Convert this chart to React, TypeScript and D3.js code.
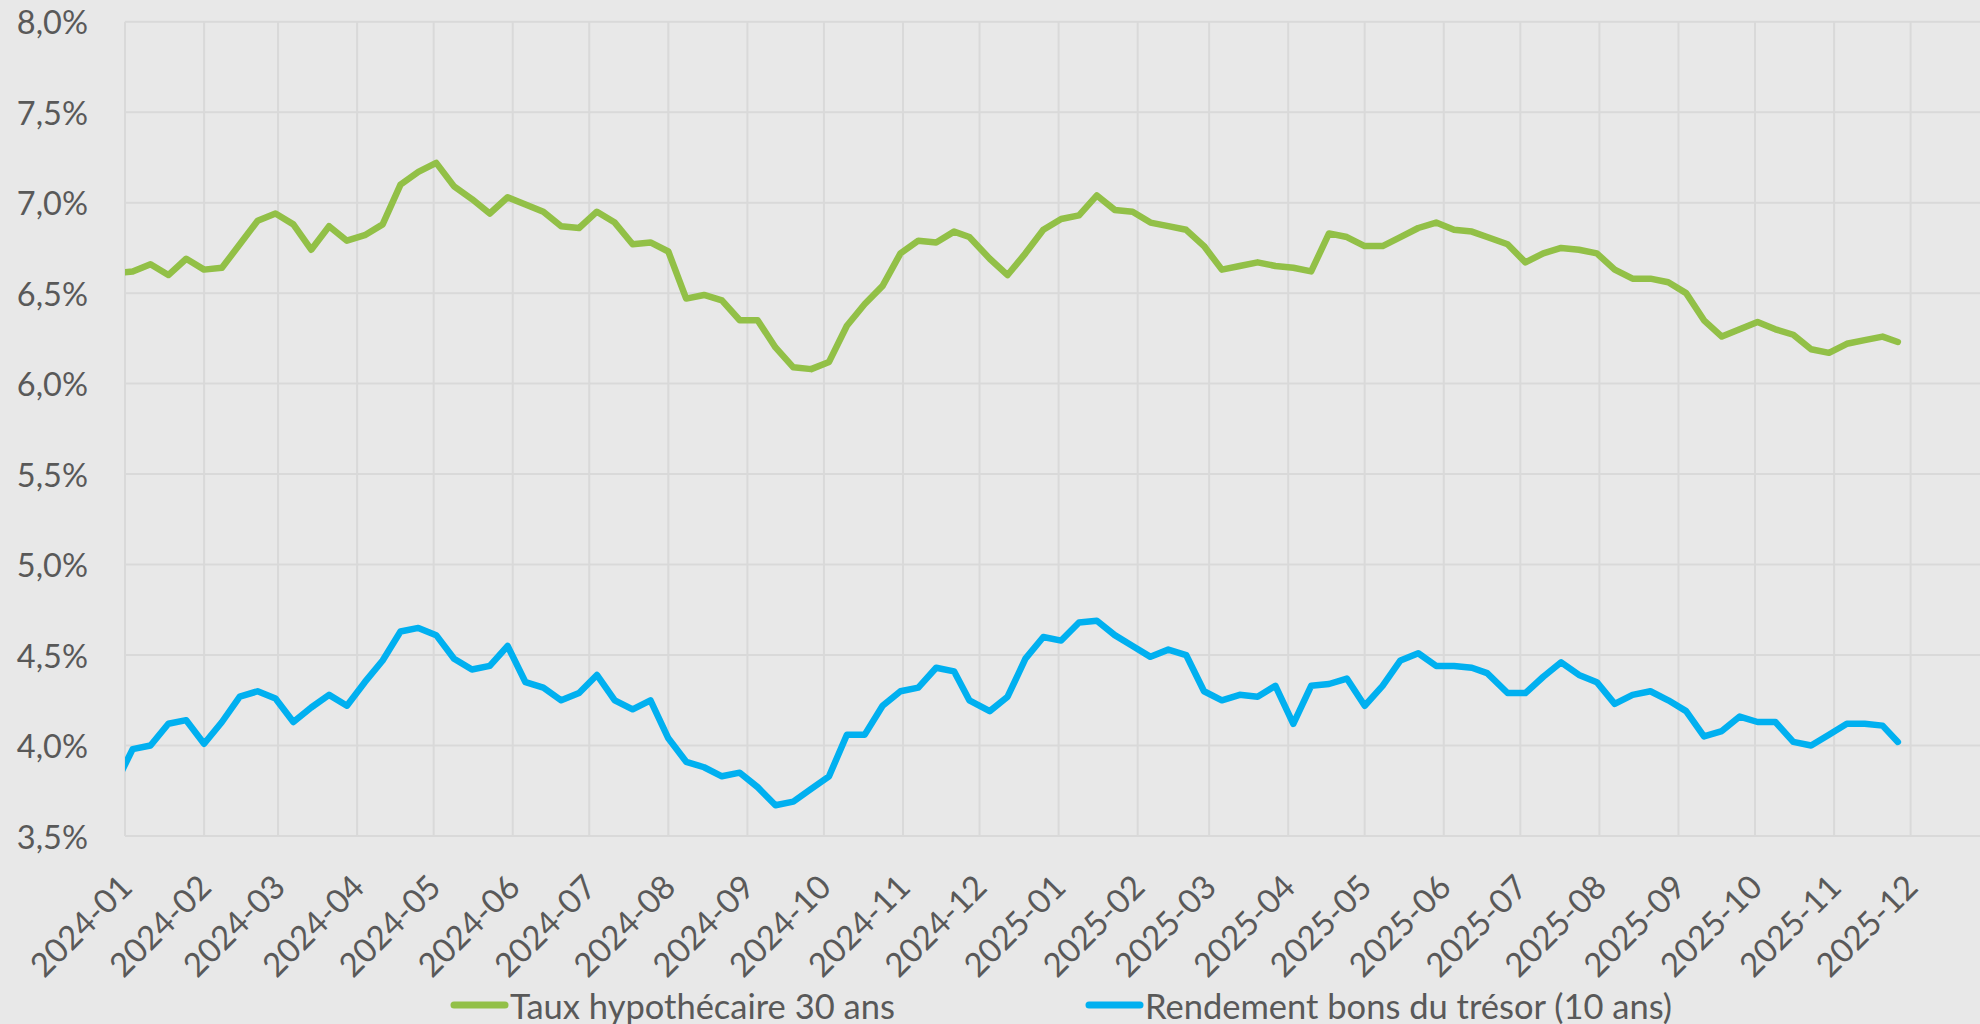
import React from 'react';
import * as d3 from 'd3';

// weekly observations (first point sits just before the axis start and gets clipped)
const weeks = [
  '2023-12-28',
  '2024-01-04', '2024-01-11', '2024-01-18', '2024-01-25', '2024-02-01', '2024-02-08', '2024-02-15', '2024-02-22', '2024-02-29',
  '2024-03-07', '2024-03-14', '2024-03-21', '2024-03-28', '2024-04-04', '2024-04-11', '2024-04-18', '2024-04-25', '2024-05-02',
  '2024-05-09', '2024-05-16', '2024-05-23', '2024-05-30', '2024-06-06', '2024-06-13', '2024-06-20', '2024-06-27', '2024-07-04',
  '2024-07-11', '2024-07-18', '2024-07-25', '2024-08-01', '2024-08-08', '2024-08-15', '2024-08-22', '2024-08-29', '2024-09-05',
  '2024-09-12', '2024-09-19', '2024-09-26', '2024-10-03', '2024-10-10', '2024-10-17', '2024-10-24', '2024-10-31', '2024-11-07',
  '2024-11-14', '2024-11-21', '2024-11-27', '2024-12-05', '2024-12-12', '2024-12-19', '2024-12-26',
  '2025-01-02', '2025-01-09', '2025-01-16', '2025-01-23', '2025-01-30', '2025-02-06', '2025-02-13', '2025-02-20', '2025-02-27',
  '2025-03-06', '2025-03-13', '2025-03-20', '2025-03-27', '2025-04-03', '2025-04-10', '2025-04-17', '2025-04-24', '2025-05-01',
  '2025-05-08', '2025-05-15', '2025-05-22', '2025-05-29', '2025-06-05', '2025-06-12', '2025-06-18', '2025-06-26', '2025-07-03',
  '2025-07-10', '2025-07-17', '2025-07-24', '2025-07-31', '2025-08-07', '2025-08-14', '2025-08-21', '2025-08-28', '2025-09-04',
  '2025-09-11', '2025-09-18', '2025-09-25', '2025-10-02', '2025-10-09', '2025-10-16', '2025-10-23', '2025-10-30', '2025-11-06',
  '2025-11-13', '2025-11-20', '2025-11-26'
];

const mortgage30 = [
  6.61,
  6.62, 6.66, 6.60, 6.69, 6.63, 6.64, 6.77, 6.90, 6.94, 6.88, 6.74, 6.87, 6.79, 6.82, 6.88, 7.10, 7.17, 7.22,
  7.09, 7.02, 6.94, 7.03, 6.99, 6.95, 6.87, 6.86, 6.95, 6.89, 6.77, 6.78, 6.73, 6.47, 6.49, 6.46, 6.35, 6.35,
  6.20, 6.09, 6.08, 6.12, 6.32, 6.44, 6.54, 6.72, 6.79, 6.78, 6.84, 6.81, 6.69, 6.60, 6.72, 6.85,
  6.91, 6.93, 7.04, 6.96, 6.95, 6.89, 6.87, 6.85, 6.76, 6.63, 6.65, 6.67, 6.65, 6.64, 6.62, 6.83, 6.81, 6.76,
  6.76, 6.81, 6.86, 6.89, 6.85, 6.84, 6.81, 6.77, 6.67, 6.72, 6.75, 6.74, 6.72, 6.63, 6.58, 6.58, 6.56, 6.50,
  6.35, 6.26, 6.30, 6.34, 6.30, 6.27, 6.19, 6.17, 6.22, 6.24, 6.26, 6.23
];

const treasury10 = [
  3.78,
  3.98, 4.00, 4.12, 4.14, 4.01, 4.13, 4.27, 4.30, 4.26, 4.13, 4.21, 4.28, 4.22, 4.35, 4.47, 4.63, 4.65, 4.61,
  4.48, 4.42, 4.44, 4.55, 4.35, 4.32, 4.25, 4.29, 4.39, 4.25, 4.20, 4.25, 4.04, 3.91, 3.88, 3.83, 3.85, 3.77,
  3.67, 3.69, 3.76, 3.83, 4.06, 4.06, 4.22, 4.30, 4.32, 4.43, 4.41, 4.25, 4.19, 4.27, 4.48, 4.60,
  4.58, 4.68, 4.69, 4.61, 4.55, 4.49, 4.53, 4.50, 4.30, 4.25, 4.28, 4.27, 4.33, 4.12, 4.33, 4.34, 4.37, 4.22,
  4.33, 4.47, 4.51, 4.44, 4.44, 4.43, 4.40, 4.29, 4.29, 4.38, 4.46, 4.39, 4.35, 4.23, 4.28, 4.30, 4.25, 4.19,
  4.05, 4.08, 4.16, 4.13, 4.13, 4.02, 4.00, 4.06, 4.12, 4.12, 4.11, 4.02
];

const yTicks = [3.5, 4.0, 4.5, 5.0, 5.5, 6.0, 6.5, 7.0, 7.5, 8.0];
const seriesNames = ['Taux hypothécaire 30 ans', 'Rendement bons du trésor (10 ans)'];

const W = 1980;
const H = 1024;
const FONT = 'Lato, "Open Sans", sans-serif';
const TEXT = '#595959';
const GREEN = '#92C047';
const BLUE = '#00B0F0';
const GRID = '#D9D9D9';

const App = () => {
  const parse = d3.utcParse('%Y-%m-%d');
  const dates = weeks.map(d => parse(d));
  const plot = { left: 125, right: W, top: 21.7, bottom: 836 };

  const x = d3.scaleUtc()
    .domain([new Date(Date.UTC(2024, 0, 1)), new Date(Date.UTC(2025, 11, 1))])
    .range([plot.left, 1910.6]);
  const y = d3.scaleLinear().domain([3.5, 8.0]).range([plot.bottom, plot.top]);

  const months = d3.utcMonth.range(new Date(Date.UTC(2024, 0, 1)), new Date(Date.UTC(2025, 11, 2)));
  const fmt = d3.utcFormat('%Y-%m');

  const line = d3.line<number>()
    .x((d, i) => x(dates[i]))
    .y(d => y(d));

  const series = [
    { name: seriesNames[0], values: mortgage30, color: GREEN },
    { name: seriesNames[1], values: treasury10, color: BLUE }
  ];

  const legendPos = [{ sw: 451, tx: 510 }, { sw: 1086, tx: 1145 }];
  const legendY = 1005;

  return (
    <svg width={W} height={H} style={{ position: 'absolute', left: 0, top: 0, background: '#E8E8E8' }}
      fontFamily={FONT}>
      <defs>
        <clipPath id="plotClip">
          <rect x={plot.left} y={plot.top - 10} width={plot.right - plot.left} height={plot.bottom - plot.top + 20} />
        </clipPath>
      </defs>
      <rect x={0} y={0} width={W} height={H} fill="#E8E8E8" />

      {/* grid */}
      {yTicks.map(t => (
        <line key={'h' + t} x1={plot.left} x2={plot.right} y1={y(t)} y2={y(t)} stroke={GRID} strokeWidth={2} />
      ))}
      {months.map(m => (
        <line key={'v' + m.getTime()} x1={x(m)} x2={x(m)} y1={plot.top} y2={plot.bottom} stroke={GRID} strokeWidth={2} />
      ))}

      {/* y labels */}
      {yTicks.map(t => (
        <text key={'yl' + t} x={88} y={y(t)} textAnchor="end" dominantBaseline="central"
          fontSize={32.5} fill={TEXT}>
          {t.toFixed(1).replace('.', ',') + '%'}
        </text>
      ))}

      {/* x labels */}
      {months.map(m => (
        <text key={'xl' + m.getTime()} transform={`translate(${x(m)},880) rotate(-45)`}
          textAnchor="end" dominantBaseline="central" fontSize={33} fill={TEXT}>
          {fmt(m)}
        </text>
      ))}

      {/* lines */}
      <g clipPath="url(#plotClip)">
        {series.map(s => (
          <path key={s.name} d={line(s.values) || ''} fill="none" stroke={s.color} strokeWidth={6.5}
            strokeLinejoin="round" strokeLinecap="round" />
        ))}
      </g>

      {/* legend */}
      {series.map((s, i) => (
        <g key={'lg' + i}>
          <line x1={legendPos[i].sw + 3} x2={legendPos[i].sw + 54} y1={legendY} y2={legendY}
            stroke={s.color} strokeWidth={7} strokeLinecap="round" />
          <text x={legendPos[i].tx} y={legendY} dominantBaseline="central" fontSize={34.5} fill={TEXT}>
            {s.name}
          </text>
        </g>
      ))}
    </svg>
  );
};

export default App;
